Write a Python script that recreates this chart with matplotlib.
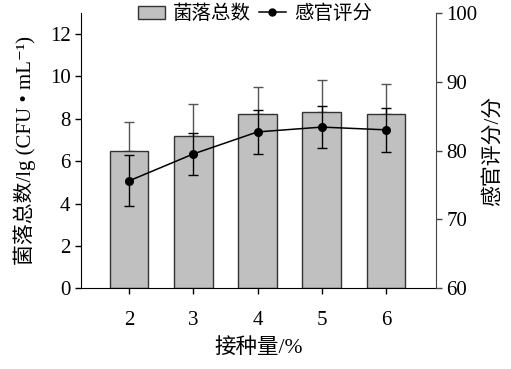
import matplotlib
matplotlib.use("Agg")
import matplotlib.pyplot as plt
from matplotlib.patches import Patch
from matplotlib.lines import Line2D

plt.rcParams['font.family'] = ['Liberation Serif', 'Noto Sans CJK SC', 'DejaVu Serif']

# inoculum amount (%)
doses = [2, 3, 4, 5, 6]
# total colony count, lg(CFU/mL)
colony = [6.5, 7.2, 8.2, 8.3, 8.2]
colony_err = [1.35, 1.5, 1.3, 1.54, 1.44]
# sensory score
score = [75.6, 79.5, 82.7, 83.4, 83.0]
score_err = [3.7, 3.0, 3.25, 3.1, 3.2]

fig = plt.figure(figsize=(5.11, 3.69), dpi=100)
ax = fig.add_axes([0.1585, 0.2187, 0.6947, 0.7468])

ax.bar(doses, colony, width=0.6, color='#c0c0c0', edgecolor='#333333',
       linewidth=1.0, zorder=2)
ax.errorbar(doses, colony, yerr=[[0] * len(colony), colony_err], fmt='none',
            ecolor='#555555', elinewidth=1.0, capsize=3.5, capthick=1.0, zorder=1)
ax.set_xlim(1.25, 6.78)
ax.set_ylim(0, 13)
ax.set_yticks([0, 2, 4, 6, 8, 10, 12])
ax.set_xticks(doses)
ax.tick_params(axis='both', direction='out', length=4, width=1, labelsize=15)
ax.tick_params(axis='x', pad=12)
ax.spines['top'].set_visible(False)
ax.spines['right'].set_visible(False)
ax.set_xlabel('接种量/%', fontsize=15.5, labelpad=6)
ax.set_ylabel('菌落总数/lg (CFU • mL⁻¹)', fontsize=15, labelpad=10)

ax2 = ax.twinx()
ax2.errorbar(doses, score, yerr=score_err, fmt='-o', color='black', lw=1.1,
             markersize=5.5, ecolor='black', elinewidth=1.0, capsize=3.5,
             capthick=1.0, zorder=3)
ax2.set_ylim(60, 100)
ax2.set_yticks([60, 70, 80, 90, 100])
ax2.tick_params(axis='y', direction='out', length=4, width=1, labelsize=15,
                color='#444444')
ax2.spines['top'].set_visible(False)
ax2.spines['left'].set_visible(False)
ax2.spines['bottom'].set_visible(False)
ax2.spines['right'].set_color('#444444')
ax2.set_ylabel('感官评分/分', fontsize=15, labelpad=4)

handles = [Patch(facecolor='#c0c0c0', edgecolor='#333333', linewidth=1.0),
           Line2D([], [], color='black', marker='o', markersize=5, lw=1.1)]
ax.legend(handles, ['菌落总数', '感官评分'], loc='center', ncol=2,
          bbox_to_anchor=(0.49, 0.995), frameon=False, fontsize=14,
          handlelength=1.4, handletextpad=0.4, columnspacing=0.4,
          borderpad=0.1)

fig.savefig('out.png', dpi=100)
